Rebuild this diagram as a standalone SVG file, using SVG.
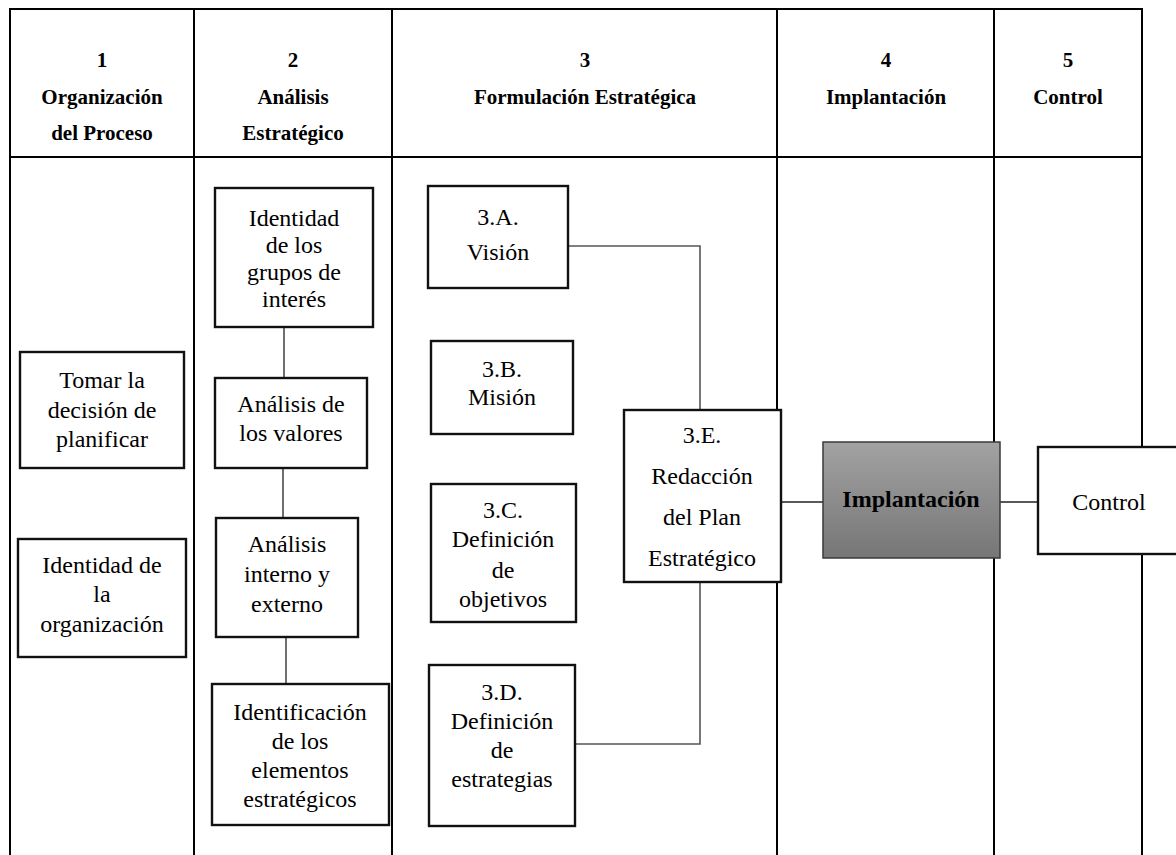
<svg xmlns="http://www.w3.org/2000/svg" width="1176" height="855" viewBox="0 0 1176 855">
  <defs>
    <linearGradient id="grayFill" x1="0" y1="0" x2="0" y2="1">
      <stop offset="0" stop-color="#a2a2a2"/>
      <stop offset="1" stop-color="#767676"/>
    </linearGradient>
  </defs>
  <style>
    .grid { stroke: #000; stroke-width: 2; fill: none; }
    .box { fill: #fff; stroke: #111; stroke-width: 2.4; }
    .shaded { fill: url(#grayFill); stroke: #3a3a3a; stroke-width: 1.5; }
    .head { font-family: "Liberation Serif", "Times New Roman", serif; font-size: 21px; font-weight: bold; text-anchor: middle; fill: #000; }
    .lbl { font-family: "Liberation Serif", "Times New Roman", serif; font-size: 24px; text-anchor: middle; fill: #000; }
    .lblb { font-family: "Liberation Serif", "Times New Roman", serif; font-size: 24px; font-weight: bold; text-anchor: middle; fill: #000; }
    .link { stroke: #222; stroke-width: 1.3; fill: none; }
    .link2 { stroke: #555; stroke-width: 1.6; fill: none; }
  </style>

  <!-- table frame -->
  <g id="table">
    <rect x="0" y="0" width="1176" height="855" fill="#fff"/>
    <line class="grid" x1="10" y1="9" x2="1142" y2="9"/>
    <line class="grid" x1="10" y1="157" x2="1142" y2="157"/>
    <line class="grid" x1="10" y1="8" x2="10" y2="855"/>
    <line class="grid" x1="194" y1="8" x2="194" y2="855"/>
    <line class="grid" x1="392" y1="8" x2="392" y2="855"/>
    <line class="grid" x1="777" y1="8" x2="777" y2="855"/>
    <line class="grid" x1="994" y1="8" x2="994" y2="855"/>
    <line class="grid" x1="1142" y1="8" x2="1142" y2="855"/>
  </g>

  <!-- column headings -->
  <g id="headers">
    <text class="head" x="102" y="67">1</text>
    <text class="head" x="102" y="104">Organización</text>
    <text class="head" x="102" y="140">del Proceso</text>
    <text class="head" x="293" y="67">2</text>
    <text class="head" x="293" y="104">Análisis</text>
    <text class="head" x="293" y="140">Estratégico</text>
    <text class="head" x="585" y="67">3</text>
    <text class="head" x="585" y="104">Formulación Estratégica</text>
    <text class="head" x="886" y="67">4</text>
    <text class="head" x="886" y="104">Implantación</text>
    <text class="head" x="1068" y="67">5</text>
    <text class="head" x="1068" y="104">Control</text>
  </g>

  <!-- connectors -->
  <g id="connectors">
    <line class="link" x1="284" y1="327" x2="284" y2="378"/>
    <line class="link" x1="283" y1="468" x2="283" y2="518"/>
    <line class="link" x1="286" y1="637" x2="286" y2="684"/>
    <polyline class="link2" points="568,246 700,246 700,410"/>
    <polyline class="link2" points="700,582 700,744 575,744"/>
    <line class="link" x1="781" y1="502" x2="823" y2="502"/>
    <line class="link" x1="1000" y1="502" x2="1038" y2="502"/>
  </g>

  <!-- column 1 -->
  <g id="tomar-decision">
    <rect class="box" x="20" y="352" width="164" height="116"/>
    <text class="lbl" x="102" y="388">Tomar la</text>
    <text class="lbl" x="102" y="418">decisión de</text>
    <text class="lbl" x="102" y="447">planificar</text>
  </g>
  <g id="identidad-organizacion">
    <rect class="box" x="18" y="539" width="168" height="118"/>
    <text class="lbl" x="102" y="573">Identidad de</text>
    <text class="lbl" x="102" y="602">la</text>
    <text class="lbl" x="102" y="632">organización</text>
  </g>

  <!-- column 2 -->
  <g id="grupos-interes">
    <rect class="box" x="215" y="188" width="158" height="139"/>
    <text class="lbl" x="294" y="226">Identidad</text>
    <text class="lbl" x="294" y="253">de los</text>
    <text class="lbl" x="294" y="280">grupos de</text>
    <text class="lbl" x="294" y="307">interés</text>
  </g>
  <g id="analisis-valores">
    <rect class="box" x="215" y="378" width="152" height="90"/>
    <text class="lbl" x="291" y="412">Análisis de</text>
    <text class="lbl" x="291" y="441">los valores</text>
  </g>
  <g id="analisis-interno">
    <rect class="box" x="216" y="518" width="142" height="119"/>
    <text class="lbl" x="287" y="552">Análisis</text>
    <text class="lbl" x="287" y="582">interno y</text>
    <text class="lbl" x="287" y="612">externo</text>
  </g>
  <g id="elementos-estrategicos">
    <rect class="box" x="212" y="684" width="177" height="141"/>
    <text class="lbl" x="300" y="720">Identificación</text>
    <text class="lbl" x="300" y="749">de los</text>
    <text class="lbl" x="300" y="778">elementos</text>
    <text class="lbl" x="300" y="807">estratégicos</text>
  </g>

  <!-- column 3 -->
  <g id="vision">
    <rect class="box" x="428" y="186" width="140" height="102"/>
    <text class="lbl" x="498" y="225">3.A.</text>
    <text class="lbl" x="498" y="260">Visión</text>
  </g>
  <g id="mision">
    <rect class="box" x="431" y="341" width="142" height="93"/>
    <text class="lbl" x="502" y="377">3.B.</text>
    <text class="lbl" x="502" y="405">Misión</text>
  </g>
  <g id="objetivos">
    <rect class="box" x="431" y="484" width="145" height="138"/>
    <text class="lbl" x="503" y="518">3.C.</text>
    <text class="lbl" x="503" y="547">Definición</text>
    <text class="lbl" x="503" y="578">de</text>
    <text class="lbl" x="503" y="607">objetivos</text>
  </g>
  <g id="estrategias">
    <rect class="box" x="429" y="665" width="146" height="161"/>
    <text class="lbl" x="502" y="700">3.D.</text>
    <text class="lbl" x="502" y="729">Definición</text>
    <text class="lbl" x="502" y="758">de</text>
    <text class="lbl" x="502" y="787">estrategias</text>
  </g>
  <g id="plan-estrategico">
    <rect class="box" x="624" y="410" width="157" height="172"/>
    <text class="lbl" x="702" y="443">3.E.</text>
    <text class="lbl" x="702" y="484">Redacción</text>
    <text class="lbl" x="702" y="525">del Plan</text>
    <text class="lbl" x="702" y="566">Estratégico</text>
  </g>

  <!-- column 4 -->
  <g id="implantacion">
    <rect class="shaded" x="823" y="442" width="177" height="116"/>
    <text class="lblb" x="911" y="507">Implantación</text>
  </g>

  <!-- column 5 -->
  <g id="control">
    <rect class="box" x="1038" y="447" width="150" height="107"/>
    <text class="lbl" x="1109" y="510">Control</text>
  </g>
</svg>
